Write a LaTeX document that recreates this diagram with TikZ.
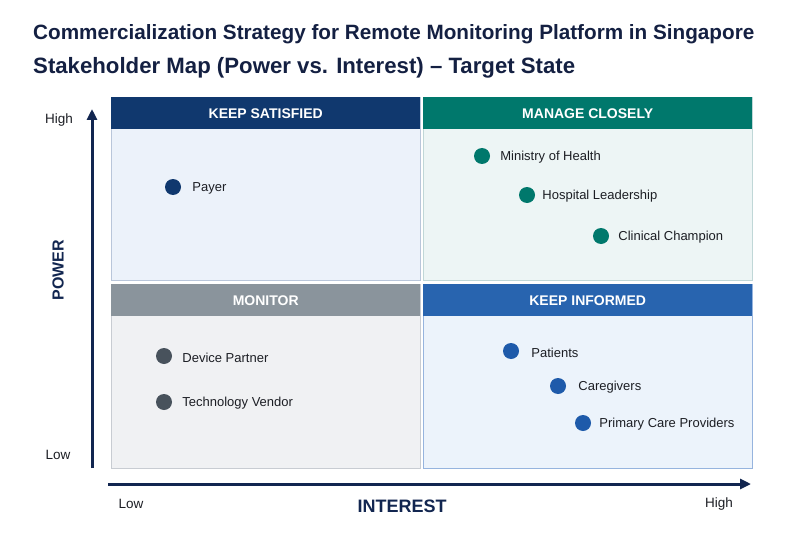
\documentclass[tikz,border=0pt]{standalone}
\usepackage{fontspec}
\setmainfont{Liberation Sans}
\usetikzlibrary{arrows.meta, positioning}
\definecolor{mynavy}{RGB}{16,56,110}
\definecolor{myteal}{RGB}{0,120,108}
\definecolor{mygray}{RGB}{138,148,156}
\definecolor{myblue}{RGB}{40,100,175}
\definecolor{dotgray}{RGB}{72,82,92}
\definecolor{dotblue}{RGB}{30,90,170}
\definecolor{bgnavy}{RGB}{236,242,250}
\definecolor{bgteal}{RGB}{237,245,245}
\definecolor{bggray}{RGB}{240,241,243}
\definecolor{bgblue}{RGB}{236,243,251}
\definecolor{frnavy}{RGB}{185,198,218}
\definecolor{frteal}{RGB}{192,215,215}
\definecolor{frgray}{RGB}{200,204,210}
\definecolor{frblue}{RGB}{150,180,222}
\definecolor{titlecol}{RGB}{20,32,66}
\definecolor{axiscol}{RGB}{18,38,80}
\definecolor{txtcol}{RGB}{28,30,36}
\tikzset{
  quad/.style={rectangle, anchor=north west, inner sep=0pt, line width=0.9pt},
  hdr/.style={rectangle, anchor=north west, inner sep=0pt, minimum height=32pt,
    text=white, font=\fontsize{14}{16}\selectfont\bfseries},
  dot/.style={circle, inner sep=0pt, minimum size=16pt},
  lbl/.style={inner sep=0pt, anchor=mid west, yshift=-1.5pt, text=txtcol,
    font=\fontsize{13}{16}\selectfont},
  ticklbl/.style={text=txtcol, font=\fontsize{13.5}{16}\selectfont},
  axislbl/.style={text=axiscol, font=\fontsize{18}{20}\selectfont\bfseries},
  axis/.style={-{Triangle[length=11pt, width=10pt]}, line width=3pt, color=axiscol}
}

\begin{document}
\begin{tikzpicture}[x=1pt, y=-1pt]
  \useasboundingbox[fill=white] (0,0) rectangle (810,540);

  % title
  \node[anchor=base west, inner sep=0pt, text=titlecol, font=\fontsize{20.7}{24}\selectfont\bfseries] (title1) at (33,40)
    {Commercialization Strategy for Remote Monitoring Platform in Singapore};
  \node[anchor=base west, inner sep=0pt, text=titlecol, font=\fontsize{22.2}{24}\selectfont\bfseries] (title2) at (33,74)
    {Stakeholder Map (Power vs. Interest) -- Target State};

  % quadrants
  \node[quad, fill=bgnavy, draw=frnavy, minimum width=309pt, minimum height=183pt] (qsat) at (111,97) {};
  \node[quad, fill=bgteal, draw=frteal, minimum width=329pt, minimum height=183pt] (qman) at (423,97) {};
  \node[quad, fill=bggray, draw=frgray, minimum width=309pt, minimum height=184pt] (qmon) at (111,284) {};
  \node[quad, fill=bgblue, draw=frblue, minimum width=329pt, minimum height=184pt] (qinf) at (423,284) {};

  \node[hdr, fill=mynavy, minimum width=309pt] (hsat) at (qsat.north west) {KEEP SATISFIED};
  \node[hdr, fill=myteal, minimum width=329pt] (hman) at (qman.north west) {MANAGE CLOSELY};
  \node[hdr, fill=mygray, minimum width=309pt] (hmon) at (qmon.north west) {MONITOR};
  \node[hdr, fill=myblue, minimum width=329pt] (hinf) at (qinf.north west) {KEEP INFORMED};

  % stakeholders
  \node[dot, fill=mynavy] (payer) at (173,187) {};
  \node[lbl, right=11pt of payer] (payerl) {Payer};

  \node[dot, fill=myteal] (moh) at (482,156) {};
  \node[lbl, right=10pt of moh] (mohl) {Ministry of Health};
  \node[dot, fill=myteal] (hosp) at (527,195) {};
  \node[lbl, right=7pt of hosp] (hospl) {Hospital Leadership};
  \node[dot, fill=myteal] (champ) at (601,236) {};
  \node[lbl, right=9pt of champ] (champl) {Clinical Champion};

  \node[dot, fill=dotgray] (device) at (164,356) {};
  \node[lbl, right=10pt of device] (devicel) {Device Partner};
  \node[dot, fill=dotgray] (vendor) at (164,402) {};
  \node[lbl, right=10pt of vendor] (vendorl) {Technology Vendor};

  \node[dot, fill=dotblue] (patients) at (511,351) {};
  \node[lbl, right=12pt of patients] (patientsl) {Patients};
  \node[dot, fill=dotblue] (carers) at (558,386) {};
  \node[lbl, right=12pt of carers] (carersl) {Caregivers};
  \node[dot, fill=dotblue] (primary) at (583,423) {};
  \node[lbl, right=8pt of primary] (primaryl) {Primary Care Providers};

  % axes
  \coordinate (ybot) at (92,468);
  \coordinate (ytop) at (92,109);
  \coordinate (xleft) at (108,484);
  \coordinate (xright) at (751,484);
  \draw[axis] (ybot) -- (ytop);
  \draw[axis] (xleft) -- (xright);

  \node[ticklbl] (yhigh) at (59,120) {High};
  \node[ticklbl] (ylow) at (58,455) {Low};
  \node[axislbl, rotate=90, font=\fontsize{16}{18}\selectfont\bfseries] (ylab) at (58,270) {POWER};
  \node[ticklbl] (xlow) at (131,504) {Low};
  \node[ticklbl] (xhigh) at (719,504) {High};
  \node[axislbl] (xlab) at (402,506) {INTEREST};
\end{tikzpicture}
\end{document}
